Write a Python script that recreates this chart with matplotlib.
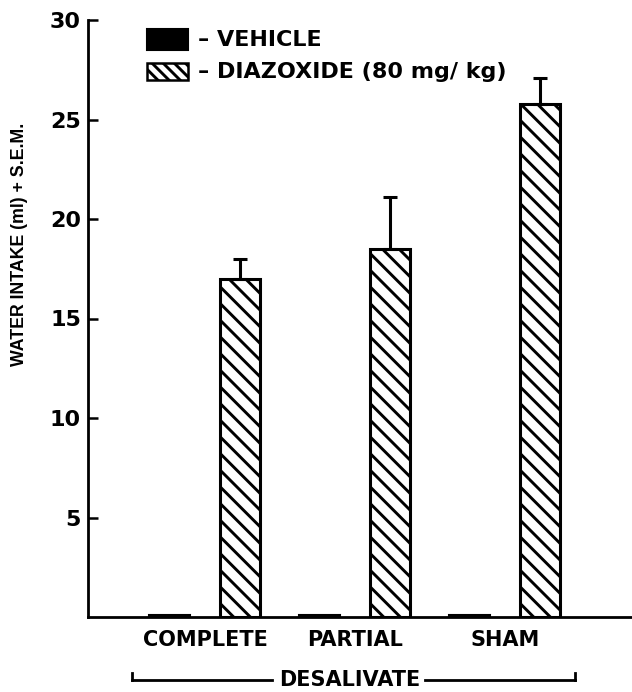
import matplotlib
matplotlib.use("Agg")
import matplotlib.pyplot as plt
from matplotlib.patches import Rectangle
from matplotlib.lines import Line2D
import numpy as np

categories = ["COMPLETE", "PARTIAL", "SHAM"]
vehicle = [0.12, 0.10, 0.10]
diazoxide = [17.0, 18.5, 25.8]
diazoxide_sem = [1.0, 2.6, 1.3]
yticks = [5, 10, 15, 20, 25, 30]
ytick_labels = ["5", "10", "15", "20", "25", "30"]
series_labels = ["– VEHICLE", "– DIAZOXIDE (80 mg/ kg)"]
group_label = "DESALIVATE"
ylabel = "WATER INTAKE (ml) + S.E.M."

plt.rcParams['font.family'] = ['DejaVu Sans']
plt.rcParams['font.weight'] = 'bold'
plt.rcParams['hatch.linewidth'] = 2.1

W, H = 632, 692
fig = plt.figure(figsize=(W / 100, H / 100), dpi=100)

def fx(px):
    return px / W

def fy(py):
    return 1 - py / H

ax = fig.add_axes([fx(88), fy(617), fx(632) - fx(88), fy(20) - fy(617)])

x = np.arange(len(categories))
off = 0.235
bw = 0.27
ax.bar(x - off, vehicle, width=bw, color="black", edgecolor="black", linewidth=1.5)
ax.bar(x + off, diazoxide, width=bw, color="white", edgecolor="black",
       linewidth=2.2, hatch="\\\\")
ax.errorbar(x + off, diazoxide, yerr=[np.zeros(len(diazoxide)), diazoxide_sem],
            fmt="none", ecolor="black", elinewidth=2.2, capsize=5, capthick=2.2)

ax.set_xlim(-0.78, 2.847)
ax.set_ylim(0, 30)
ax.set_yticks(yticks)
ax.set_yticklabels(ytick_labels, fontsize=16, fontweight='bold')
ax.tick_params(axis='y', direction='in', length=7, width=1.8, pad=5)
ax.set_xticks(x)
ax.set_xticklabels(categories, fontsize=15, fontweight='bold')
ax.tick_params(axis='x', length=0, pad=9)
for s in ["top", "right"]:
    ax.spines[s].set_visible(False)
ax.spines["left"].set_linewidth(2)
ax.spines["bottom"].set_linewidth(2)

fig.text(fx(20), fy(244), ylabel, rotation=90, ha='center', va='center',
         fontsize=12.8, fontweight='bold', family=['Liberation Sans', 'DejaVu Sans'])

# bracket
yb = fy(680)
lw = 2
fig.add_artist(Line2D([fx(132), fx(272)], [yb, yb], color='black', lw=lw))
fig.add_artist(Line2D([fx(425), fx(575)], [yb, yb], color='black', lw=lw))
fig.add_artist(Line2D([fx(132), fx(132)], [yb, fy(673)], color='black', lw=lw))
fig.add_artist(Line2D([fx(575), fx(575)], [yb, fy(673)], color='black', lw=lw))
fig.text(fx(350), yb, group_label, ha='center', va='center', fontsize=15, fontweight='bold')

# legend
fig.add_artist(Rectangle((fx(147), fy(50)), fx(188) - fx(147), fy(29) - fy(50),
                         transform=fig.transFigure, facecolor='black', edgecolor='black', lw=1.5))
fig.add_artist(Rectangle((fx(147), fy(80)), fx(188) - fx(147), fy(63) - fy(80),
                         transform=fig.transFigure, facecolor='white', edgecolor='black',
                         lw=1.8, hatch="\\\\\\"))
fig.text(fx(198), fy(40), series_labels[0], ha='left', va='center', fontsize=16, fontweight='bold')
fig.text(fx(198), fy(72), series_labels[1], ha='left', va='center', fontsize=16, fontweight='bold')

fig.savefig("out.png", dpi=100)
